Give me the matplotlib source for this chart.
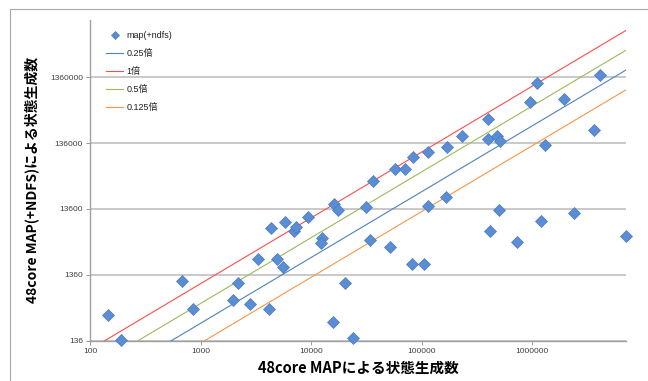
import matplotlib.pyplot as plt
from matplotlib.lines import Line2D
import numpy as np

plt.rcParams['font.family'] = ['Liberation Sans', 'Noto Sans CJK JP']

# 48core MAP (x) と MAP(+NDFS) (y) の状態生成数
map_states = [145, 190, 675, 855, 2190, 1950, 2810, 4110, 3300, 4290,
              5750, 6980, 7300, 9420, 4880, 5600, 12450, 12220, 16180, 17580,
              31100, 36400, 33650, 20200, 15600, 24000, 51500, 57300, 70500, 82400,
              114600, 168000, 114600, 164400, 81100, 105200, 231000, 393000, 393000, 473500,
              510000, 416000, 495000, 726000, 946000, 1104000, 1197000, 1309000, 1918000, 2377000,
              3622000, 4083000, 7000000]
ndfs_states = [334, 138, 1097, 405, 1012, 564, 496, 419, 2340, 7120,
               8540, 6360, 7320, 10170, 2340, 1770, 4850, 4100, 16080, 13000,
               14330, 36600, 4570, 1012, 264, 151, 3630, 55600, 55600, 82900,
               99800, 116800, 14840, 20540, 2000, 1980, 176400, 319700, 155500, 177200,
               146700, 6360, 13220, 4360, 579000, 1121000, 9030, 127500, 632000, 11700,
               215400, 1499000, 5330]

ratios = [0.25, 1, 0.5, 0.125]
ratio_labels = ['0.25倍', '1倍', '0.5倍', '0.125倍']
ratio_colors = ['#4F81BD', '#FF4B4B', '#9BBB59', '#F79646']

x_ticks = [100, 1000, 10000, 100000, 1000000]
y_ticks = [136, 1360, 13600, 136000, 1360000]

fig = plt.figure(figsize=(6.48, 3.81), dpi=100)
ax = fig.add_axes([90 / 648, 1 - 340.7 / 381, 536 / 648, 320.7 / 381])

xmin, xmax = 100, 7.01e6
ymin, ymax = 136, 1.008e7

ax.plot(map_states, ndfs_states, linestyle='none', marker='D', markersize=6,
        markerfacecolor='#5B8DD4', markeredgecolor='#4A7BC0', markeredgewidth=0.5,
        label='map(+ndfs)', clip_on=False, zorder=4)

xs = np.array([xmin, xmax])
for r, lab, c in zip(ratios, ratio_labels, ratio_colors):
    ax.plot(xs, xs * r, color=c, linewidth=0.8, label=lab, zorder=3)

ax.set_xscale('log')
ax.set_yscale('log')
ax.set_xlim(xmin, xmax)
ax.set_ylim(ymin, ymax)
ax.set_xticks(x_ticks)
ax.set_xticklabels([str(v) for v in x_ticks])
ax.set_yticks(y_ticks)
ax.set_yticklabels([str(v) for v in y_ticks])
ax.minorticks_off()
ax.tick_params(labelsize=6, colors='#404040', length=3, width=0.6, pad=2)
ax.tick_params(axis='both', color='#888888')

ax.grid(axis='y', color='#C0C0C0', linewidth=1.2)
ax.set_axisbelow(True)
for s in ['top', 'right']:
    ax.spines[s].set_visible(False)
for s in ['left', 'bottom']:
    ax.spines[s].set_color('#A0A0A0')
    ax.spines[s].set_linewidth(1.0)

ax.set_xlabel('48core MAPによる状態生成数', fontsize=10.5, fontweight='bold',
              family=['Noto Sans CJK JP'], labelpad=4)
ax.set_ylabel('48core MAP(+NDFS)による状態生成数', fontsize=10, fontweight='bold',
              family=['Noto Sans CJK JP'], labelpad=8)

ax.legend(loc='upper left', bbox_to_anchor=(0.015, 0.99), frameon=False,
          fontsize=6.5, handlelength=1.9, handletextpad=0.35, labelspacing=1.0,
          markerscale=0.7, labelcolor='#202020')

# chart area border (left and top visible)
fig.add_artist(Line2D([10 / 648, 10 / 648, 1], [0, 1 - 9 / 381, 1 - 9 / 381],
                      transform=fig.transFigure, color='#A8A8A8', linewidth=0.8))

plt.savefig('out.png', dpi=100)
